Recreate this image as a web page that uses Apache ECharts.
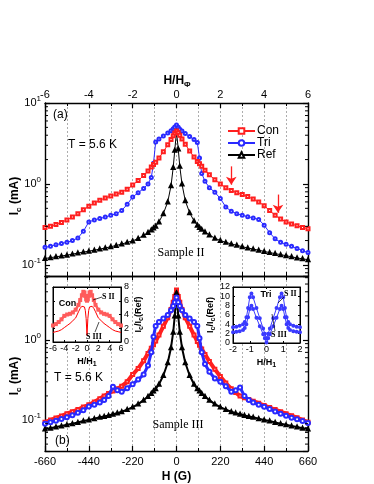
<!DOCTYPE html>
<html><head><meta charset="utf-8">
<script src="https://cdn.jsdelivr.net/npm/echarts@6/dist/echarts.min.js"></script>
<style>html,body{margin:0;padding:0;background:#fff}#c{width:374px;height:484px}</style>
</head><body><div id="c"></div>
<script>
// ---------- DATA ----------
// Panel (a): Sample II, x in H/H_phi
const hTop = [-6,-5.75,-5.5,-5.25,-5,-4.75,-4.5,-4.25,-4,-3.75,-3.5,-3.25,-3,-2.75,-2.5,-2.25,-2,-1.75,-1.5,-1.3,-1.15,-1.05,-0.95,-0.8,-0.6,-0.4,-0.25,-0.15,-0.08,0,0.08,0.15,0.25,0.4,0.6,0.8,0.95,1.05,1.15,1.3,1.5,1.75,2,2.25,2.5,2.75,3,3.25,3.5,3.75,4,4.25,4.5,4.75,5,5.25,5.5,5.75,6];
const conTop = [0.29,0.30,0.315,0.335,0.36,0.39,0.43,0.48,0.53,0.58,0.63,0.67,0.71,0.75,0.79,0.86,0.97,1.1,1.27,1.45,1.62,1.74,1.86,2.1,2.5,3.05,3.55,3.95,4.25,4.5,4.3,4.0,3.6,3.1,2.55,2.15,1.9,1.78,1.65,1.48,1.3,1.13,1.0,0.9,0.83,0.78,0.74,0.7,0.65,0.6,0.54,0.47,0.41,0.37,0.34,0.32,0.305,0.29,0.28];
const triTop = [0.165,0.17,0.178,0.184,0.19,0.2,0.215,0.26,0.34,0.36,0.375,0.39,0.41,0.43,0.47,0.56,0.69,0.78,0.88,1.0,1.2,1.8,3.3,3.6,3.9,4.25,4.55,4.8,5.05,5.35,5.0,4.75,4.5,4.2,3.85,3.55,3.25,2.1,1.35,1.08,0.9,0.79,0.66,0.52,0.46,0.43,0.41,0.395,0.38,0.365,0.31,0.25,0.21,0.19,0.18,0.17,0.16,0.15,0.142];
const refTop = [0.12,0.123,0.126,0.129,0.132,0.136,0.14,0.144,0.148,0.152,0.157,0.162,0.168,0.174,0.181,0.19,0.198,0.212,0.232,0.252,0.27,0.285,0.3,0.34,0.43,0.6,0.95,1.6,2.6,4.4,2.7,1.65,1.0,0.62,0.44,0.35,0.31,0.29,0.275,0.255,0.235,0.214,0.2,0.19,0.182,0.175,0.168,0.162,0.157,0.152,0.147,0.142,0.138,0.134,0.13,0.126,0.122,0.119,0.116];
// Panel (b): Sample III, x in G
const hBot = [-660,-632.5,-605,-577.5,-550,-522.5,-495,-467.5,-440,-412.5,-385,-363,-341,-319,-297,-275,-247.5,-220,-192.5,-165,-143,-126.5,-115.5,-104.5,-88,-66,-44,-27.5,-16.5,-8.8,0,8.8,16.5,27.5,44,66,88,104.5,115.5,126.5,143,165,192.5,220,247.5,275,297,319,341,363,385,412.5,440,467.5,495,522.5,550,577.5,605,632.5,660];
const conBot = [0.094,0.1,0.106,0.112,0.12,0.127,0.135,0.145,0.155,0.168,0.185,0.2,0.215,0.23,0.245,0.265,0.3,0.37,0.44,0.55,0.68,0.79,0.87,0.97,1.15,1.48,1.9,2.4,2.95,3.5,4.2,3.5,2.95,2.4,1.9,1.48,1.15,0.96,0.86,0.77,0.66,0.54,0.43,0.35,0.29,0.245,0.22,0.2,0.19,0.18,0.172,0.162,0.152,0.143,0.135,0.127,0.12,0.113,0.107,0.1,0.094];
const triBot = [0.09,0.094,0.098,0.103,0.108,0.115,0.123,0.132,0.148,0.155,0.165,0.178,0.2,0.26,0.235,0.225,0.25,0.28,0.32,0.37,0.48,0.7,1.1,1.5,1.68,1.85,2.05,2.35,2.65,2.95,3.4,2.95,2.65,2.35,2.05,1.85,1.68,1.5,1.05,0.7,0.5,0.4,0.33,0.3,0.265,0.225,0.235,0.255,0.2,0.178,0.165,0.155,0.146,0.137,0.128,0.12,0.113,0.107,0.102,0.097,0.092];
const refBot = [0.077,0.079,0.082,0.084,0.087,0.09,0.093,0.097,0.1,0.104,0.108,0.111,0.114,0.118,0.122,0.127,0.135,0.145,0.158,0.177,0.197,0.215,0.23,0.245,0.28,0.36,0.52,0.8,1.25,2.0,3.9,2.0,1.25,0.8,0.52,0.36,0.28,0.245,0.23,0.215,0.197,0.177,0.158,0.145,0.135,0.127,0.122,0.118,0.114,0.111,0.108,0.104,0.1,0.097,0.093,0.09,0.087,0.084,0.082,0.079,0.077];
// Inset "Con": Ic/Ic(Ref) vs H/H1
const conX = [-6,-5.5,-5,-4.5,-4,-3.5,-3,-2.5,-2,-1.5,-1.2,-0.9,-0.65,-0.45,-0.3,-0.15,0,0.15,0.3,0.45,0.65,0.9,1.2,1.5,2,2.5,3,3.5,4,4.5,5,5.5,6];
const conS2 = [2.4,2.6,2.9,3.3,3.8,4.0,4.1,4.3,4.7,5.4,6.1,6.8,7.3,7.2,6.7,6.2,6.0,6.2,6.7,7.2,7.3,6.8,6.1,5.4,4.7,4.3,4.1,4.0,3.8,3.3,2.9,2.6,2.4];
const conS3 = [1.4,1.5,1.6,1.8,2.1,2.4,2.7,3.1,3.5,4.4,4.9,5.2,5.3,5.1,4.6,3.4,0.95,3.4,4.6,5.1,5.3,5.2,4.9,4.4,3.5,3.1,2.7,2.4,2.1,1.8,1.6,1.5,1.4];
// Inset "Tri"
const triX = [-2,-1.8,-1.6,-1.4,-1.3,-1.2,-1.1,-1.0,-0.9,-0.8,-0.6,-0.4,-0.2,-0.1,0,0.1,0.2,0.4,0.6,0.8,0.9,1.0,1.1,1.2,1.3,1.4,1.6,1.8,2];
const triS2 = [3.4,3.5,3.7,4.0,4.5,5.5,7.5,9.8,10.6,9.8,7.5,5.3,3.1,2.0,1.0,2.0,3.1,5.3,7.5,9.8,10.6,9.8,7.5,5.5,4.5,4.0,3.7,3.5,3.4];
const triS3 = [2.3,2.4,2.5,2.8,3.2,4.0,5.5,7.3,8.0,7.3,5.4,3.6,1.9,1.0,0.1,1.0,1.9,3.6,5.4,7.3,8.0,7.3,5.5,4.0,3.2,2.8,2.5,2.4,2.3];
// Arrows (panel a)
const arrowH = [2.5, 4.63];
const arrowFrom = [1.65, 0.74];
const arrowTo = [0.98, 0.44];
// minor log tick positions
const logMinor = [0.05,0.06,0.07,0.08,0.09,0.2,0.3,0.4,0.5,0.6,0.7,0.8,0.9,2,3,4,5,6,7,8,9];
const legendNames = ['Con','Tri','Ref'];

// ---------- CHART ----------
const SANS = 'Liberation Sans, Arial, sans-serif';
const SERIF = 'Liberation Serif, Times New Roman, serif';
const RED = '#ff1f1f', BLUE = '#2a2aff', BLACK = '#000';
const zip = (xs, ys) => xs.map((x, i) => [x, ys[i]]);

function ax(o) {
  const base = {
    type: 'value',
    axisLine: {show: true, onZero: false, lineStyle: {color: '#000', width: 1.4}},
    axisTick: {show: true, inside: true, length: 5, lineStyle: {color: '#000', width: 1.2}},
    axisLabel: {show: false},
    splitLine: {show: false}
  };
  return Object.assign(base, o);
}
const dashed = {show: true, lineStyle: {type: [2, 2], color: '#999', width: 0.8}};
function logLabel(v) {
  const l = Math.log10(v), e = Math.round(l);
  if (Math.abs(l - e) > 1e-6) return '';
  return '{n|10}{s|' + e + '}';
}
const logRich = {n: {fontSize: 11, fontFamily: SANS, lineHeight: 16}, s: {fontSize: 8, fontFamily: SANS, verticalAlign: 'top'}};
const ycRich = {b: {fontSize: 12, fontWeight: 'bold', fontFamily: SANS, lineHeight: 16, fill: '#000'}, s: {fontSize: 8, fontWeight: 'bold', fontFamily: SANS, verticalAlign: 'bottom', fill: '#000'}};
const smRich = {b: {fontSize: 9, fontWeight: 'bold', fontFamily: SANS, lineHeight: 12}, s: {fontSize: 7, fontWeight: 'bold', fontFamily: SANS, verticalAlign: 'bottom'}};

function minorSeries(xi, yi, lo, hi) {
  return {
    type: 'custom', xAxisIndex: xi, yAxisIndex: yi, silent: true, z: 6, clip: false,
    data: logMinor.filter(v => v > lo && v < hi).map(v => [0, v]),
    renderItem: function (params, api) {
      const cs = params.coordSys;
      const p = api.coord([0, api.value(1)]);
      const st = {stroke: '#000', lineWidth: 1};
      return {type: 'group', children: [
        {type: 'line', shape: {x1: cs.x, y1: p[1], x2: cs.x + 3, y2: p[1]}, style: st},
        {type: 'line', shape: {x1: cs.x + cs.width - 3, y1: p[1], x2: cs.x + cs.width, y2: p[1]}, style: st}
      ]};
    }
  };
}

const topMin = 0.073, topMax = 10, botMin = 0.041, botMax = 6.3;

const option = {
  animation: false,
  backgroundColor: '#fff',
  textStyle: {fontFamily: SANS},
  grid: [
    {left: 45, top: 103, width: 263, height: 173, outerBoundsMode: 'none'},
    {left: 45, top: 276, width: 263, height: 175, outerBoundsMode: 'none'},
    {left: 53, top: 287, width: 68, height: 55, show: true, backgroundColor: '#fff', borderColor: '#000', borderWidth: 1, z: 3, outerBoundsMode: 'none'},
    {left: 233, top: 287, width: 67, height: 56, show: true, backgroundColor: '#fff', borderColor: '#000', borderWidth: 1, z: 3, outerBoundsMode: 'none'}
  ],
  legend: {
    data: legendNames, orient: 'vertical', left: 222, top: 120, itemWidth: 27, itemHeight: 7, itemGap: 0,
    textStyle: {fontSize: 12, fontFamily: SANS, color: '#000', padding: [0, 0, 0, -3]}
  },
  xAxis: [
    ax({gridIndex: 0, position: 'top', min: -6, max: 6, interval: 2,
        minorTick: {show: true, splitNumber: 2, length: 3, lineStyle: {color: '#000'}},
        axisLabel: {show: true, fontSize: 11, margin: 3, color: '#000', fontFamily: SANS}}),
    ax({gridIndex: 0, position: 'bottom', min: -6, max: 6, interval: 1, axisTick: {show: true, inside: true, length: 4, lineStyle: {color: '#000'}}, splitLine: dashed}),
    ax({gridIndex: 1, position: 'bottom', min: -660, max: 660, interval: 220,
        minorTick: {show: true, splitNumber: 2, length: 3, lineStyle: {color: '#000'}},
        splitLine: dashed, minorSplitLine: dashed,
        axisLabel: {show: true, fontSize: 11, margin: 5, color: '#000', fontFamily: SANS},
        name: 'H (G)', nameLocation: 'middle', nameGap: 20, nameTextStyle: {fontSize: 12, fontWeight: 'bold', fontFamily: SANS, color: '#000'}}),
    ax({gridIndex: 1, position: 'top', min: -660, max: 660, interval: 110, axisTick: {show: true, inside: true, length: 4, lineStyle: {color: '#000'}}}),
    ax({gridIndex: 2, position: 'bottom', min: -6, max: 6, interval: 2, z: 4,
        axisLine: {show: true, onZero: false, lineStyle: {color: '#000', width: 1}},
        axisTick: {show: true, inside: true, length: 2, lineStyle: {color: '#000'}},
        axisLabel: {show: true, fontSize: 9, margin: 2, color: '#000', fontFamily: SANS},
        name: '{b|H/H}{s|1}', nameLocation: 'middle', nameGap: 14, nameTextStyle: {rich: smRich}}),
    ax({gridIndex: 2, position: 'top', min: -6, max: 6, interval: 2, z: 4,
        axisLine: {show: true, onZero: false, lineStyle: {color: '#000', width: 1}},
        axisTick: {show: true, inside: true, length: 2, lineStyle: {color: '#000'}}}),
    ax({gridIndex: 3, position: 'bottom', min: -2, max: 2, interval: 1, z: 4,
        axisLine: {show: true, onZero: false, lineStyle: {color: '#000', width: 1}},
        axisTick: {show: true, inside: true, length: 2, lineStyle: {color: '#000'}},
        axisLabel: {show: true, fontSize: 9, margin: 2, color: '#000', fontFamily: SANS},
        name: '{b|H/H}{s|1}', nameLocation: 'middle', nameGap: 14, nameTextStyle: {rich: smRich}}),
    ax({gridIndex: 3, position: 'top', min: -2, max: 2, interval: 1, z: 4,
        axisLine: {show: true, onZero: false, lineStyle: {color: '#000', width: 1}},
        axisTick: {show: true, inside: true, length: 2, lineStyle: {color: '#000'}}})
  ],
  yAxis: [
    ax({gridIndex: 0, type: 'log', logBase: 10, position: 'left', min: topMin, max: topMax,
        axisLabel: {show: true, formatter: logLabel, rich: logRich, margin: 4, color: '#000'}}),
    ax({gridIndex: 0, type: 'log', logBase: 10, position: 'right', min: topMin, max: topMax}),
    ax({gridIndex: 1, type: 'log', logBase: 10, position: 'left', min: botMin, max: botMax,
        axisLabel: {show: true, formatter: logLabel, rich: logRich, margin: 4, color: '#000'}}),
    ax({gridIndex: 1, type: 'log', logBase: 10, position: 'right', min: botMin, max: botMax}),
    ax({gridIndex: 2, position: 'right', min: 0, max: 8, interval: 2, z: 4,
        axisLine: {show: true, onZero: false, lineStyle: {color: '#000', width: 1}},
        axisTick: {show: true, inside: true, length: 2, lineStyle: {color: '#000'}},
        axisLabel: {show: true, fontSize: 9, margin: 3, color: '#000', fontFamily: SANS},
        name: '{b|I}{s|c}{b|/I}{s|c}{b|(Ref)}', nameLocation: 'middle', nameGap: 12, nameTextStyle: {rich: smRich}}),
    ax({gridIndex: 2, position: 'left', min: 0, max: 8, interval: 2, z: 4,
        axisLine: {show: true, onZero: false, lineStyle: {color: '#000', width: 1}},
        axisTick: {show: true, inside: true, length: 2, lineStyle: {color: '#000'}}}),
    ax({gridIndex: 3, position: 'left', min: 0, max: 12, interval: 2, z: 4,
        axisLine: {show: true, onZero: false, lineStyle: {color: '#000', width: 1}},
        axisTick: {show: true, inside: true, length: 2, lineStyle: {color: '#000'}},
        axisLabel: {show: true, fontSize: 9, margin: 3, color: '#000', fontFamily: SANS},
        name: '{b|I}{s|c}{b|/I}{s|c}{b|(Ref)}', nameLocation: 'middle', nameGap: 13, nameTextStyle: {rich: smRich}}),
    ax({gridIndex: 3, position: 'right', min: 0, max: 12, interval: 2, z: 4,
        axisLine: {show: true, onZero: false, lineStyle: {color: '#000', width: 1}},
        axisTick: {show: true, inside: true, length: 2, lineStyle: {color: '#000'}}})
  ],
  series: [
    {name: 'Con', type: 'line', xAxisIndex: 0, yAxisIndex: 0, data: zip(hTop, conTop), symbol: 'emptyRect', symbolSize: 3,
     itemStyle: {color: RED, borderWidth: 1}, lineStyle: {color: RED, width: 1}, z: 3,
     markLine: {silent: true, symbol: ['none', 'arrow'], symbolSize: 8, label: {show: false},
       lineStyle: {color: RED, width: 1.3, type: 'solid'},
       data: arrowH.map((h, i) => [{coord: [h, arrowFrom[i]]}, {coord: [h, arrowTo[i]]}])}},
    {name: 'Tri', type: 'line', xAxisIndex: 0, yAxisIndex: 0, data: zip(hTop, triTop), symbol: 'emptyCircle', symbolSize: 3,
     itemStyle: {color: BLUE, borderWidth: 1}, lineStyle: {color: BLUE, width: 1}, z: 2},
    {name: 'Ref', type: 'line', xAxisIndex: 0, yAxisIndex: 0, data: zip(hTop, refTop), symbol: 'emptyTriangle', symbolSize: 3,
     itemStyle: {color: BLACK, borderWidth: 1}, lineStyle: {color: BLACK, width: 1}, z: 2},
    {name: 'Con', type: 'line', xAxisIndex: 2, yAxisIndex: 2, data: zip(hBot, conBot), symbol: 'emptyRect', symbolSize: 3,
     itemStyle: {color: RED, borderWidth: 1}, lineStyle: {color: RED, width: 4}, z: 2},
    {name: 'Tri', type: 'line', xAxisIndex: 2, yAxisIndex: 2, data: zip(hBot, triBot), symbol: 'emptyCircle', symbolSize: 4,
     itemStyle: {color: BLUE, borderWidth: 1.2}, lineStyle: {color: BLUE, width: 3}, z: 3},
    {name: 'Ref', type: 'line', xAxisIndex: 2, yAxisIndex: 2, data: zip(hBot, refBot), symbol: 'emptyTriangle', symbolSize: 3,
     itemStyle: {color: BLACK, borderWidth: 1}, lineStyle: {color: BLACK, width: 2}, z: 2},
    {name: 'Con S II', type: 'line', xAxisIndex: 4, yAxisIndex: 4, data: zip(conX, conS2), symbol: 'emptyRect', symbolSize: 2,
     itemStyle: {color: '#ff5c5c', borderWidth: 1}, lineStyle: {color: '#ff5c5c', width: 2.5}, z: 5},
    {name: 'Con S III', type: 'line', xAxisIndex: 4, yAxisIndex: 4, data: zip(conX, conS3), showSymbol: false, symbol: 'none',
     lineStyle: {color: '#ff0000', width: 1}, z: 5},
    {name: 'Tri S II', type: 'line', xAxisIndex: 6, yAxisIndex: 6, data: zip(triX, triS2), symbol: 'emptyCircle', symbolSize: 2,
     itemStyle: {color: '#3a3aff', borderWidth: 1}, lineStyle: {color: '#3a3aff', width: 1}, z: 5},
    {name: 'Tri S III', type: 'line', xAxisIndex: 6, yAxisIndex: 6, data: zip(triX, triS3), symbol: 'emptyCircle', symbolSize: 2,
     itemStyle: {color: '#3a3aff', borderWidth: 1}, lineStyle: {color: '#3a3aff', width: 1}, z: 5},
    minorSeries(1, 0, topMin, topMax),
    minorSeries(2, 2, botMin, botMax)
  ],
  graphic: [
    {type: 'text', x: 177, y: 81, z: 10, style: {text: '{b|H/H}{s|Φ}', rich: ycRich, align: 'center', textAlign: 'center', verticalAlign: 'middle', textVerticalAlign: 'middle'}},
    {type: 'text', x: 15, y: 196, rotation: Math.PI / 2, z: 10, style: {text: '{b|I}{s|c}{b| (mA)}', rich: ycRich, align: 'center', textAlign: 'center', verticalAlign: 'middle', textVerticalAlign: 'middle'}},
    {type: 'text', x: 15, y: 376, rotation: Math.PI / 2, z: 10, style: {text: '{b|I}{s|c}{b| (mA)}', rich: ycRich, align: 'center', textAlign: 'center', verticalAlign: 'middle', textVerticalAlign: 'middle'}},
    {type: 'text', x: 53, y: 115, z: 10, style: {text: '(a)', font: '12px ' + SANS, fill: '#000', verticalAlign: 'middle', textVerticalAlign: 'middle'}},
    {type: 'text', x: 68, y: 145, z: 10, style: {text: 'T = 5.6 K', font: '12px ' + SANS, fill: '#000', verticalAlign: 'middle', textVerticalAlign: 'middle'}},
    {type: 'text', x: 181, y: 253, z: 10, style: {text: 'Sample II', font: '12px ' + SERIF, fill: '#000', align: 'center', textAlign: 'center', verticalAlign: 'middle', textVerticalAlign: 'middle'}},
    {type: 'text', x: 178, y: 425, z: 10, style: {text: 'Sample III', font: '12px ' + SERIF, fill: '#000', align: 'center', textAlign: 'center', verticalAlign: 'middle', textVerticalAlign: 'middle'}},
    {type: 'text', x: 55, y: 441, z: 10, style: {text: '(b)', font: '12px ' + SANS, fill: '#000', verticalAlign: 'middle', textVerticalAlign: 'middle'}},
    {type: 'text', x: 54, y: 378, z: 10, style: {text: 'T = 5.6 K', font: '12px ' + SANS, fill: '#000', verticalAlign: 'middle', textVerticalAlign: 'middle'}},
    {type: 'text', x: 67.5, y: 304, z: 10, style: {text: 'Con', font: 'bold 9px ' + SANS, fill: '#000', align: 'center', textAlign: 'center', verticalAlign: 'middle', textVerticalAlign: 'middle'}},
    {type: 'text', x: 102, y: 297, z: 10, style: {text: 'S II', font: 'bold 8px ' + SERIF, fill: '#000', verticalAlign: 'middle', textVerticalAlign: 'middle'}},
    {type: 'text', x: 86, y: 337, z: 10, style: {text: 'S III', font: 'bold 8px ' + SERIF, fill: '#000', verticalAlign: 'middle', textVerticalAlign: 'middle'}},
    {type: 'line', z: 10, shape: {x1: 93, y1: 300, x2: 102, y2: 297}, style: {stroke: '#000', lineWidth: 0.7}},
    {type: 'line', z: 10, shape: {x1: 99, y1: 322, x2: 95, y2: 332}, style: {stroke: '#000', lineWidth: 0.7}},
    {type: 'text', x: 266, y: 295, z: 10, style: {text: 'Tri', font: 'bold 9px ' + SANS, fill: '#000', align: 'center', textAlign: 'center', verticalAlign: 'middle', textVerticalAlign: 'middle'}},
    {type: 'text', x: 284, y: 294, z: 10, style: {text: 'S II', font: 'bold 8px ' + SERIF, fill: '#000', verticalAlign: 'middle', textVerticalAlign: 'middle'}},
    {type: 'text', x: 271, y: 335, z: 10, style: {text: 'S III', font: 'bold 8px ' + SERIF, fill: '#000', verticalAlign: 'middle', textVerticalAlign: 'middle'}},
    {type: 'line', z: 10, shape: {x1: 278, y1: 303, x2: 284, y2: 297}, style: {stroke: '#000', lineWidth: 0.7}},
    {type: 'line', z: 10, shape: {x1: 272, y1: 314, x2: 275, y2: 331}, style: {stroke: '#000', lineWidth: 0.7}}
  ]
};
const chart = echarts.init(document.getElementById('c'), null, {renderer: 'canvas'});
chart.setOption(option);
</script>
</body></html>
